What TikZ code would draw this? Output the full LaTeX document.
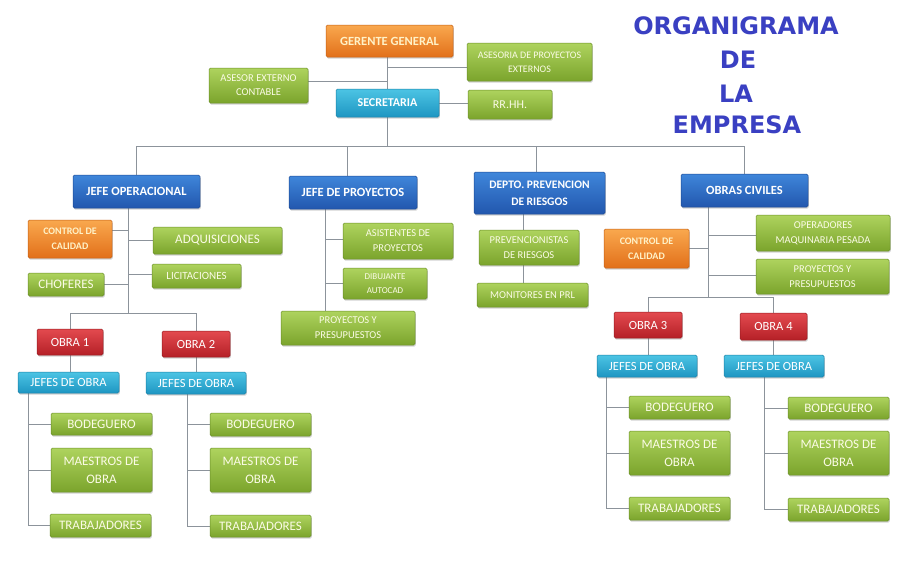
\documentclass[tikz,border=0pt]{standalone}
\usepackage{fontspec}
\setmainfont{Carlito}[BoldFont={Carlito Bold}]
\newfontfamily\titlefont{DejaVu Sans}
\usetikzlibrary{shadows,backgrounds}
\definecolor{lineg}{HTML}{8C939B}
\definecolor{gtop}{HTML}{AED35E}
\definecolor{gbot}{HTML}{7BA42C}
\definecolor{gedge}{HTML}{6A8F28}
\definecolor{gtext}{HTML}{FBFBE6}
\definecolor{otop}{HTML}{F9A84E}
\definecolor{obot}{HTML}{E2701A}
\definecolor{oedge}{HTML}{C45F14}
\definecolor{otext}{HTML}{FFF2C8}
\definecolor{btop}{HTML}{3F86DA}
\definecolor{bbot}{HTML}{2257AE}
\definecolor{bedge}{HTML}{1D4A94}
\definecolor{ctop}{HTML}{4CC4E4}
\definecolor{cbot}{HTML}{1E96C2}
\definecolor{cedge}{HTML}{1A80A6}
\definecolor{rtop}{HTML}{E34A4F}
\definecolor{rbot}{HTML}{B52027}
\definecolor{redge}{HTML}{961A20}
\definecolor{titleblue}{HTML}{3A40C2}
\newcommand\fsz[2]{\fontsize{#1}{#2}\selectfont}
\tikzset{
  box/.style={rectangle, rounded corners=1.5pt, inner sep=1pt, align=center, line width=0.5pt,
    drop shadow={opacity=0.35, shadow xshift=0.8pt, shadow yshift=-1.6pt}},
  sz/.style 2 args={minimum width=#1pt, minimum height=#2pt},
  gbox/.style={box, top color=gtop, bottom color=gbot, draw=gedge, text=gtext},
  obox/.style={box, top color=otop, bottom color=obot, draw=oedge, text=otext},
  bbox/.style={box, top color=btop, bottom color=bbot, draw=bedge, text=white},
  cbox/.style={box, top color=ctop, bottom color=cbot, draw=cedge, text=white},
  rbox/.style={box, top color=rtop, bottom color=rbot, draw=redge, text=white},
  conn/.style={draw=lineg, line width=0.8pt},
  ttl/.style={anchor=base, text=titleblue, font=\titlefont\bfseries\fsz{24}{28}, inner sep=0pt}
}
\begin{document}
\begin{tikzpicture}[x=1pt,y=-1pt]
\useasboundingbox (0,0) rectangle (908,560);

% title
\node[ttl] (t1) at (736,34) {ORGANIGRAMA};
\node[ttl] (t2) at (738,68) {DE};
\node[ttl] (t3) at (736,102) {LA};
\node[ttl] (t4) at (737,133) {EMPRESA};

% ---- top level nodes
\node[obox, sz={127}{32}, font=\bfseries\fsz{12.5}{14}] (gg) at (389.5,41) {GERENTE GENERAL};
\node[gbox, sz={125}{38}, font=\fsz{10}{14}] (ase) at (529.5,62) {ASESORIA DE PROYECTOS\\EXTERNOS};
\node[gbox, sz={99}{35}, font=\fsz{10.5}{14}] (aec) at (258.5,85.5) {ASESOR EXTERNO\\CONTABLE};
\node[cbox, sz={103}{28}, font=\bfseries\fsz{12}{14}] (sec) at (387.5,103) {SECRETARIA};
\node[gbox, sz={84}{29}, font=\fsz{12}{14}] (rrhh) at (510,104.5) {RR.HH.};

% ---- level 2
\node[bbox, sz={127}{33}, font=\bfseries\fsz{12.5}{14}] (jop) at (136.5,191.5) {JEFE OPERACIONAL};
\node[bbox, sz={128}{33}, font=\bfseries\fsz{12.5}{14}] (jpr) at (353,192.5) {JEFE DE PROYECTOS};
\node[bbox, sz={131}{42}, font=\bfseries\fsz{11.5}{17}] (dpr) at (539.5,193) {DEPTO. PREVENCION\\DE RIESGOS};
\node[bbox, sz={127}{33}, font=\bfseries\fsz{12.5}{14}] (oc) at (744.5,190.5) {OBRAS CIVILES};

% ---- jefe operacional branch
\node[obox, sz={84}{38}, font=\bfseries\fsz{10}{15}] (cc1) at (70,239) {CONTROL DE\\CALIDAD};
\node[gbox, sz={129}{27}, font=\fsz{13}{14}] (adq) at (217.5,240.5) {ADQUISICIONES};
\node[gbox, sz={89}{24}, font=\fsz{11}{14}] (lic) at (196.5,276) {LICITACIONES};
\node[gbox, sz={76}{23}, font=\fsz{13}{14}] (cho) at (66,284.5) {CHOFERES};
\node[rbox, sz={66}{26}, font=\fsz{12.5}{14}] (o1) at (70,342) {OBRA 1};
\node[rbox, sz={68}{26}, font=\fsz{12.5}{14}] (o2) at (196,344) {OBRA 2};
\node[cbox, sz={101}{21}, font=\fsz{12.5}{14}] (j1) at (68.5,382.5) {JEFES DE OBRA};
\node[cbox, sz={100}{22}, font=\fsz{12.5}{14}] (j2) at (196,383) {JEFES DE OBRA};
\node[gbox, sz={101}{22}, font=\fsz{13}{14}] (b1) at (101.5,424) {BODEGUERO};
\node[gbox, sz={101}{44}, font=\fsz{13}{18}] (m1) at (101.5,470) {MAESTROS DE\\OBRA};
\node[gbox, sz={101}{23}, font=\fsz{13}{14}] (w1) at (100.5,525.5) {TRABAJADORES};
\node[gbox, sz={101}{23}, font=\fsz{13}{14}] (b2) at (260.5,424.5) {BODEGUERO};
\node[gbox, sz={101}{44}, font=\fsz{13}{18}] (m2) at (260.5,470) {MAESTROS DE\\OBRA};
\node[gbox, sz={101}{22}, font=\fsz{13}{14}] (w2) at (260.5,526) {TRABAJADORES};

% ---- jefe de proyectos branch
\node[gbox, sz={110}{36}, font=\fsz{10.5}{15}] (asi) at (398,241) {ASISTENTES DE\\PROYECTOS};
\node[gbox, sz={84}{31}, font=\fsz{9}{14}] (dib) at (385,283.5) {DIBUJANTE\\AUTOCAD};
\node[gbox, sz={134}{34}, font=\fsz{10.5}{15}] (pp1) at (348,328) {PROYECTOS Y\\PRESUPUESTOS};

% ---- prevencion branch
\node[gbox, sz={100}{35}, font=\fsz{10.5}{15}] (prev) at (529,247.5) {PREVENCIONISTAS\\DE RIESGOS};
\node[gbox, sz={111}{24}, font=\fsz{10.5}{14}] (mon) at (532.5,295) {MONITORES EN PRL};

% ---- obras civiles branch
\node[gbox, sz={134}{36}, font=\fsz{10.5}{15}] (ope) at (823,233) {OPERADORES\\MAQUINARIA PESADA};
\node[obox, sz={85}{39}, font=\bfseries\fsz{10}{15}] (cc2) at (646.5,248.5) {CONTROL DE\\CALIDAD};
\node[gbox, sz={133}{35}, font=\fsz{10.5}{15}] (pp2) at (822.5,276.5) {PROYECTOS Y\\PRESUPUESTOS};
\node[rbox, sz={68}{26}, font=\fsz{12.5}{14}] (o3) at (648,325) {OBRA 3};
\node[rbox, sz={67}{27}, font=\fsz{12.5}{14}] (o4) at (773.5,326.5) {OBRA 4};
\node[cbox, sz={100}{22}, font=\fsz{12.5}{14}] (j3) at (647,366) {JEFES DE OBRA};
\node[cbox, sz={100}{22}, font=\fsz{12.5}{14}] (j4) at (774,366) {JEFES DE OBRA};
\node[gbox, sz={101}{23}, font=\fsz{13}{14}] (b3) at (679.5,407.5) {BODEGUERO};
\node[gbox, sz={101}{44}, font=\fsz{13}{18}] (m3) at (679.5,453) {MAESTROS DE\\OBRA};
\node[gbox, sz={101}{23}, font=\fsz{13}{14}] (w3) at (679.5,508.5) {TRABAJADORES};
\node[gbox, sz={101}{22}, font=\fsz{13}{14}] (b4) at (838.5,408) {BODEGUERO};
\node[gbox, sz={101}{44}, font=\fsz{13}{18}] (m4) at (838.5,453) {MAESTROS DE\\OBRA};
\node[gbox, sz={101}{23}, font=\fsz{13}{14}] (w4) at (838.5,509.5) {TRABAJADORES};

% ---- connector helper coordinates
\coordinate (bus) at (0,146);
\coordinate (tr1) at (128,313);
\coordinate (tr2) at (325,0);
\coordinate (tr3) at (523,0);
\coordinate (tr4) at (708,297);
\coordinate (tj1) at (28,0);
\coordinate (tj2) at (187,0);
\coordinate (tj3) at (606,0);
\coordinate (tj4) at (764,0);
\coordinate (aseL) at ([yshift=-5pt]ase.west);
\coordinate (aecR) at ([yshift=4.5pt]aec.east);
\coordinate (jprT) at ([xshift=-6pt]jpr.north);
\coordinate (dprT) at ([xshift=-3.5pt]dpr.north);
\coordinate (cc1R) at ([yshift=9pt]cc1.east);
\coordinate (licL) at ([yshift=2pt]lic.west);
\coordinate (asiL) at ([yshift=2pt]asi.west);
\coordinate (opeL) at ([yshift=-2pt]ope.west);
\coordinate (pp2L) at ([yshift=1.5pt]pp2.west);

\begin{pgfonlayer}{background}
\fill[white] (0,0) rectangle (908,560);
% top
\draw[conn] (gg.south -| sec.north) -- (sec.north);
\draw[conn] (aseL) -- (aseL -| sec.north);
\draw[conn] (aecR) -- (aecR -| sec.north);
\draw[conn] (sec.east) -- (sec.east -| rrhh.west);
\draw[conn] (sec.south) -- (sec.south |- bus);
\draw[conn] (jop.north |- bus) -- (oc.north |- bus);
\draw[conn] (jop.north |- bus) -- (jop.north);
\draw[conn] (jprT |- bus) -- (jprT);
\draw[conn] (dprT |- bus) -- (dprT);
\draw[conn] (oc.north |- bus) -- (oc.north);
% jefe operacional
\draw[conn] (jop.south -| tr1) -- (tr1);
\draw[conn] (cc1R) -- (cc1R -| tr1);
\draw[conn] (adq.west) -- (adq.west -| tr1);
\draw[conn] (licL) -- (licL -| tr1);
\draw[conn] (cho.east) -- (cho.east -| tr1);
\draw[conn] (o1.north |- tr1) -- (o2.north |- tr1);
\draw[conn] (o1.north |- tr1) -- (o1.north);
\draw[conn] (o2.north |- tr1) -- (o2.north);
\draw[conn] (o1.south) -- (o1.south |- j1.north);
\draw[conn] (o2.south) -- (o2.south |- j2.north);
\draw[conn] (j1.south -| tj1) -- (w1.west -| tj1);
\draw[conn] (b1.west) -- (b1.west -| tj1);
\draw[conn] (m1.west) -- (m1.west -| tj1);
\draw[conn] (w1.west) -- (w1.west -| tj1);
\draw[conn] (j2.south -| tj2) -- (w2.west -| tj2);
\draw[conn] (b2.west) -- (b2.west -| tj2);
\draw[conn] (m2.west) -- (m2.west -| tj2);
\draw[conn] (w2.west) -- (w2.west -| tj2);
% jefe de proyectos
\draw[conn] (jpr.south -| tr2) -- (pp1.north -| tr2);
\draw[conn] (asiL) -- (asiL -| tr2);
\draw[conn] (dib.west) -- (dib.west -| tr2);
% prevencion
\draw[conn] (dpr.south -| tr3) -- (prev.north -| tr3);
\draw[conn] (prev.south -| tr3) -- (mon.north -| tr3);
% obras civiles
\draw[conn] (oc.south -| tr4) -- (tr4);
\draw[conn] (opeL) -- (opeL -| tr4);
\draw[conn] (cc2.east) -- (cc2.east -| tr4);
\draw[conn] (pp2L) -- (pp2L -| tr4);
\draw[conn] (o3.north |- tr4) -- (o4.north |- tr4);
\draw[conn] (o3.north |- tr4) -- (o3.north);
\draw[conn] (o4.north |- tr4) -- (o4.north);
\draw[conn] (o3.south) -- (o3.south |- j3.north);
\draw[conn] (o4.south) -- (o4.south |- j4.north);
\draw[conn] (j3.south -| tj3) -- (w3.west -| tj3);
\draw[conn] (b3.west) -- (b3.west -| tj3);
\draw[conn] (m3.west) -- (m3.west -| tj3);
\draw[conn] (w3.west) -- (w3.west -| tj3);
\draw[conn] (j4.south -| tj4) -- (w4.west -| tj4);
\draw[conn] (b4.west) -- (b4.west -| tj4);
\draw[conn] (m4.west) -- (m4.west -| tj4);
\draw[conn] (w4.west) -- (w4.west -| tj4);
\end{pgfonlayer}
\end{tikzpicture}
\end{document}
